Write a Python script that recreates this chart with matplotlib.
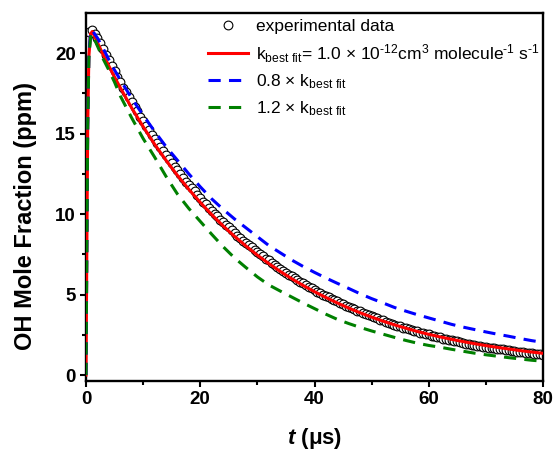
import numpy as np
import matplotlib
matplotlib.use("Agg")
import matplotlib.pyplot as plt

plt.rcParams['font.family'] = ['Liberation Sans', 'DejaVu Sans']
plt.rcParams['mathtext.fontset'] = 'custom'
plt.rcParams['mathtext.rm'] = 'Liberation Sans'
plt.rcParams['mathtext.it'] = 'Liberation Sans:italic:bold'
plt.rcParams['mathtext.default'] = 'regular'

# experimental OH trace (t in us, one sample every 0.5 us)
t_exp = np.arange(1, 161) * 0.5
oh_exp = [21.30, 21.45, 21.19, 20.95, 20.62, 20.28, 19.90, 19.58, 19.20, 18.90,
          18.52, 18.22, 17.86, 17.60, 17.25, 16.98, 16.64, 16.38, 16.04, 15.80,
          15.48, 15.24, 14.94, 14.70, 14.40, 14.18, 13.90, 13.66, 13.40, 13.18,
          12.93, 12.72, 12.48, 12.27, 12.02, 11.84, 11.60, 11.41, 11.18, 11.00,
          10.78, 10.60, 10.39, 10.22, 10.02, 9.86, 9.66, 9.51, 9.32, 9.17,
          8.99, 8.84, 8.67, 8.52, 8.36, 8.22, 8.06, 7.93, 7.78, 7.65,
          7.50, 7.38, 7.23, 7.12, 6.97, 6.86, 6.72, 6.61, 6.48, 6.37,
          6.24, 6.13, 6.01, 5.91, 5.79, 5.70, 5.58, 5.49, 5.38, 5.30,
          5.19, 5.11, 5.00, 4.93, 4.82, 4.75, 4.65, 4.58, 4.48, 4.42,
          4.32, 4.25, 4.16, 4.10, 4.01, 3.95, 3.86, 3.80, 3.72, 3.66,
          3.58, 3.52, 3.45, 3.39, 3.30, 3.26, 3.17, 3.14, 3.06, 3.03,
          2.95, 2.92, 2.84, 2.82, 2.74, 2.72, 2.64, 2.62, 2.54, 2.52,
          2.45, 2.43, 2.36, 2.34, 2.27, 2.25, 2.19, 2.17, 2.11, 2.09,
          2.03, 2.02, 1.96, 1.95, 1.89, 1.88, 1.83, 1.81, 1.77, 1.75,
          1.71, 1.69, 1.65, 1.64, 1.60, 1.59, 1.55, 1.54, 1.50, 1.49,
          1.45, 1.44, 1.41, 1.40, 1.36, 1.35, 1.32, 1.31, 1.28, 1.27]

# model curves
t_mod = [0, 0.15, 0.3, 0.5, 0.8, 1.1, 1.5, 2, 3, 4, 5, 6, 8, 10, 12, 14, 16, 18,
         20, 22, 24, 26, 28, 30, 32, 34, 36, 38, 40, 42, 44, 46, 48, 50, 52, 54,
         56, 58, 60, 62, 64, 66, 68, 70, 72, 74, 76, 78, 80]
oh_best = [0, 8.0, 15.5, 19.8, 21.2, 21.35, 21.04, 20.66, 19.92, 19.21, 18.52,
           17.86, 16.60, 15.44, 14.35, 13.35, 12.41, 11.54, 10.73, 9.97, 9.27,
           8.62, 8.02, 7.45, 6.93, 6.44, 5.99, 5.57, 5.18, 4.82, 4.48, 4.16,
           3.87, 3.60, 3.35, 3.12, 2.91, 2.71, 2.53, 2.37, 2.22, 2.08, 1.95,
           1.83, 1.72, 1.62, 1.52, 1.43, 1.35]
oh_slow = [0, 8.0, 15.5, 19.9, 21.3, 21.45, 21.2, 20.95, 20.3, 19.6, 18.95,
           18.35, 17.2, 16.15, 15.15, 14.2, 13.35, 12.5, 11.7, 10.95, 10.3,
           9.7, 9.15, 8.6, 8.05, 7.6, 7.15, 6.75, 6.38, 6.03, 5.7, 5.38, 5.05,
           4.75, 4.48, 4.2, 3.97, 3.75, 3.55, 3.35, 3.15, 2.98, 2.83, 2.68,
           2.54, 2.41, 2.27, 2.14, 2.03]
oh_fast = [0, 8.0, 15.5, 19.7, 21.0, 21.2, 20.85, 20.45, 19.65, 18.95, 18.2,
           17.35, 15.98, 14.7, 13.55, 12.35, 11.25, 10.35, 9.55, 8.75, 7.98,
           7.28, 6.68, 6.1, 5.6, 5.22, 4.85, 4.48, 4.13, 3.78, 3.46, 3.2, 2.96,
           2.74, 2.54, 2.34, 2.15, 1.98, 1.84, 1.73, 1.6, 1.48, 1.36, 1.26,
           1.17, 1.08, 1.0, 0.92, 0.86]

hy = '\u2010'  # short hyphen for the exponents, like the original

fig = plt.figure(figsize=(5.55, 4.53), dpi=100)
ax = fig.add_axes([86/555, 1-381/453, 457/555, 368/453])

ax.plot(t_exp, oh_exp, 'o', ms=6.3, mfc='white', mec='black', mew=0.8,
        label='experimental data', zorder=2)
ax.plot(t_mod, oh_best, '-', color='#ff0000', lw=2.2, zorder=3,
        label='k$_{best\\ fit}$= 1.0 \u00d7 10$^{' + hy + '12}$cm$^{3}$ molecule$^{'
              + hy + '1}$ s$^{' + hy + '1}$')
ax.plot(t_mod, oh_slow, '--', color='#0000ff', lw=2.2, dashes=(4, 2.7), zorder=3,
        label='0.8 \u00d7 k$_{best\\ fit}$')
ax.plot(t_mod, oh_fast, '--', color='#008000', lw=2.2, dashes=(4, 2.7), zorder=3,
        label='1.2 \u00d7 k$_{best\\ fit}$')

ax.set_xlim(0, 80)
ax.set_ylim(-0.37, 22.5)
ax.set_xticks([0, 20, 40, 60, 80])
ax.set_xticks([10, 30, 50, 70], minor=True)
ax.set_yticks([0, 5, 10, 15, 20])
ax.set_yticks([2.5, 7.5, 12.5, 17.5], minor=True)
ax.tick_params(which='major', direction='out', length=4.3, width=1.5, pad=3,
               labelsize=13.5, top=False, right=False)
ax.tick_params(which='minor', direction='out', length=3, width=1.5,
               top=False, right=False)
for lab in ax.get_xticklabels() + ax.get_yticklabels():
    lab.set_fontweight('bold')
for sp in ax.spines.values():
    sp.set_linewidth(1.7)

ax.set_xlabel('$\\mathit{t}$ (\u03bcs)', fontsize=16, fontweight='bold', labelpad=13)
ax.set_ylabel('OH Mole Fraction (ppm)', fontsize=17, fontweight='bold')
ax.yaxis.set_label_coords(-0.107, 0.448)

ax.legend(loc='upper left', bbox_to_anchor=(208/555, 1-19/453),
          bbox_transform=fig.transFigure, frameon=False, fontsize=12.5,
          borderpad=0, borderaxespad=0, handlelength=2.3, handletextpad=0.45,
          labelspacing=0.45)

fig.savefig('out.png', dpi=100)
